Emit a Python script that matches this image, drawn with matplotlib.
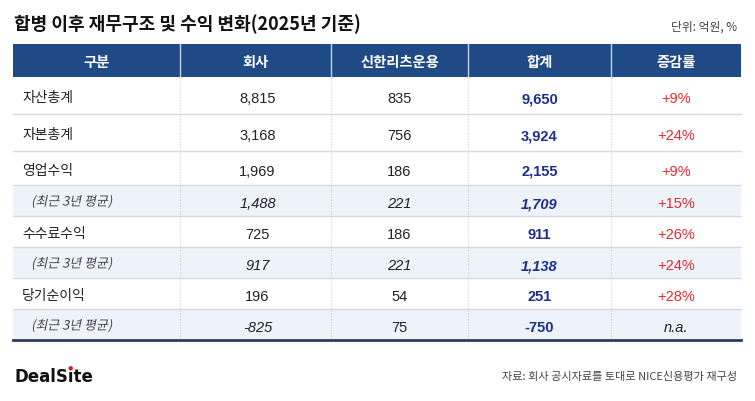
import matplotlib
matplotlib.use("Agg")
import matplotlib.pyplot as plt
from matplotlib.textpath import TextPath
from matplotlib.font_manager import FontProperties
from matplotlib.patches import PathPatch, Rectangle, Circle
from matplotlib.transforms import Affine2D

# ---------------- data ----------------
title = "합병 이후 재무구조 및 수익 변화(2025년 기준)"
unit_note = "단위: 억원, %"
source_note = "자료: 회사 공시자료를 토대로 NICE신용평가 재구성"
headers = ["구분", "회사", "신한리츠운용", "합계", "증감률"]
categories = ["자산총계", "자본총계", "영업수익", "(최근 3년 평균)",
              "수수료수익", "(최근 3년 평균)", "당기순이익", "(최근 3년 평균)"]
is_sub = [False, False, False, True, False, True, False, True]
company = [8815, 3168, 1969, 1488, 725, 917, 196, -825]
reits = [835, 756, 186, 221, 186, 221, 54, 75]
total = [9650, 3924, 2155, 1709, 911, 1138, 251, -750]
change = [9, 24, 9, 15, 26, 24, 28, None]

# ---------------- layout ----------------
W, H = 755, 402
fig = plt.figure(figsize=(W / 100, H / 100), dpi=100)
ax = fig.add_axes([0, 0, 1, 1])
ax.set_xlim(0, W)
ax.set_ylim(H, 0)
ax.axis("off")

KR = "Noto Sans CJK KR"
NUM = "Liberation Sans"
col_edges = [13, 180, 331, 468, 611, 741]
header_top, header_bot = 45, 78
row_h = [37, 37, 34, 31, 31, 31, 31, 31]
row_edges = [header_bot]
for h in row_h:
    row_edges.append(row_edges[-1] + h)

HEAD_C = "#1f4a86"
SUB_BG = "#eef3fa"
NAVY = "#1c2f8c"
RED = "#e8292e"
TXT = "#222222"


def px(pt):
    return pt * 100 / 72


def kr_text(x, cy, s, size, **kw):
    # place Hangul so that its ink is centred on cy
    ax.text(x, cy + 0.38 * px(size) + 0.5, s, fontfamily=KR, fontsize=size,
            va="baseline", **kw)


def num_text(x, cy, s, size, **kw):
    ax.text(x, cy + 0.358 * px(size) + 1.5, s, fontfamily=NUM, fontsize=size,
            va="baseline", ha="center", **kw)


def italic_kr(x, y, s, size_pt, color):
    fp = FontProperties(family=KR)
    tp = TextPath((0, 0), s, size=px(size_pt), prop=fp)
    ext = tp.get_extents()
    cy = (ext.y0 + ext.y1) / 2
    tr = Affine2D().translate(0, -cy).skew_deg(12, 0).scale(1, -1).translate(x, y + 1)
    ax.add_patch(PathPatch(tp, transform=tr + ax.transData, fc=color, ec="none", lw=0))


# title & notes
ax.text(14, 24, title, fontfamily=KR, fontweight="bold", fontsize=13,
        va="center", ha="left", color="#111111")
ax.text(737, 27, unit_note, fontfamily=KR, fontsize=8.5, va="center", ha="right",
        color="#444444")

# header
ax.add_patch(Rectangle((col_edges[0], header_top), col_edges[-1] - col_edges[0],
                       header_bot - header_top, fc=HEAD_C, ec="none"))
for xe in col_edges[1:-1]:
    ax.plot([xe, xe], [header_top, header_bot], color="#c5d2e6", lw=1)
for i, htxt in enumerate(headers):
    cx = (col_edges[i] + col_edges[i + 1]) / 2
    kr_text(cx, (header_top + header_bot) / 2, htxt, 10.3, fontweight="bold",
            color="white", ha="center")

# body backgrounds
for r in range(len(categories)):
    if is_sub[r]:
        ax.add_patch(Rectangle((col_edges[0], row_edges[r]), col_edges[-1] - col_edges[0],
                               row_h[r], fc=SUB_BG, ec="none"))
for r in range(1, len(categories)):
    ax.plot([col_edges[0], col_edges[-1]], [row_edges[r], row_edges[r]],
            color="#d6dae0", lw=1)
for xe in col_edges[1:-1]:
    ax.plot([xe, xe], [header_bot, row_edges[-1]], color="#cfcfcf", lw=0.8,
            ls=(0, (1, 1.5)))
ax.plot([col_edges[0], col_edges[-1]], [row_edges[-1], row_edges[-1]],
        color="#2d3f60", lw=2)

# body text
centers = [(col_edges[i] + col_edges[i + 1]) / 2 for i in range(5)]
NS = 10.5
for r, cat in enumerate(categories):
    cy = (row_edges[r] + row_edges[r + 1]) / 2
    sub = is_sub[r]
    last = r == len(categories) - 1
    if sub:
        italic_kr(32, cy, cat, 9.3, "#444444")
    else:
        kr_text(22, cy, cat, 10, color=TXT, ha="left")
    num_text(centers[1] + 2, cy, f"{company[r]:,}", NS, color=TXT,
             style="italic" if sub else "normal")
    num_text(centers[2], cy, f"{reits[r]:,}", NS, color=TXT,
             style="italic" if (sub and not last) else "normal")
    num_text(centers[3], cy, f"{total[r]:,}", NS, fontweight="bold", color=NAVY,
             style="italic" if (sub and not last) else "normal")
    if change[r] is None:
        num_text(centers[4], cy, "n.a.", NS, color=TXT, style="italic")
    else:
        num_text(centers[4], cy, f"+{change[r]}%", NS, color=RED)

# footer
ax.text(737, 377, source_note, fontfamily=KR, fontsize=8, va="center", ha="right",
        color="#444444")

brand_kw = dict(fontfamily="DejaVu Sans", fontweight="bold", fontsize=12,
                va="baseline", ha="left", color="#111111")
bx, by = 14, 382
ax.text(bx, by, "DealS\u0131te", **brand_kw)
renderer = fig.canvas.get_renderer()
t1 = ax.text(bx, by, "DealS", alpha=0, **brand_kw)
t2 = ax.text(bx, by, "DealS\u0131", alpha=0, **brand_kw)
w1 = t1.get_window_extent(renderer).width
w2 = t2.get_window_extent(renderer).width
em_px = px(12)
ax.add_patch(Circle((bx + (w1 + w2) / 2, by - 0.76 * em_px), 2.2, fc="#e5141b",
                    ec="none"))

fig.savefig("out.png", dpi=100, facecolor="white")
